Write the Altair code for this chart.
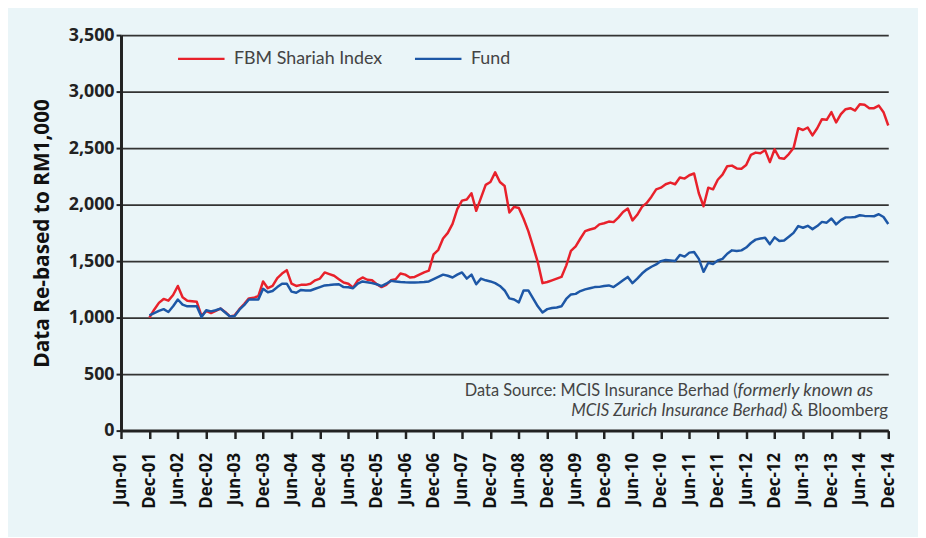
import altair as alt
import pandas as pd

# ---- data ----
tick_labels = [
    "Jun-01", "Dec-01", "Jun-02", "Dec-02", "Jun-03", "Dec-03", "Jun-04", "Dec-04",
    "Jun-05", "Dec-05", "Jun-06", "Dec-06", "Jun-07", "Dec-07", "Jun-08", "Dec-08",
    "Jun-09", "Dec-09", "Jun-10", "Dec-10", "Jun-11", "Dec-11", "Jun-12", "Dec-12",
    "Jun-13", "Dec-13", "Jun-14", "Dec-14",
]
series_names = ["FBM Shariah Index", "Fund"]
series_colors = ["#E8212B", "#1D57A6"]
start_month = 6  # first observation: Dec-01 (months after Jun-01)

fbm_shariah = [
    1000, 1070, 1130, 1165, 1150, 1200, 1280, 1180, 1150, 1145,
    1140, 1015, 1060, 1040, 1060, 1080, 1050, 1010, 1020, 1075,
    1120, 1170, 1175, 1190, 1320, 1260, 1280, 1350, 1390, 1420,
    1300, 1280, 1290, 1290, 1300, 1330, 1345, 1400, 1385, 1370,
    1340, 1310, 1300, 1265, 1330, 1355, 1335, 1330, 1295, 1270,
    1290, 1330, 1340, 1390, 1380, 1355, 1360, 1380, 1400, 1415,
    1560, 1600, 1700, 1750, 1830, 1960, 2035, 2045, 2100, 1945,
    2060, 2175, 2200, 2285, 2200, 2165, 1930, 1980, 1970, 1875,
    1765, 1630, 1490, 1305, 1315, 1330, 1345, 1360, 1460, 1590,
    1630, 1700, 1765, 1780, 1790, 1825, 1835, 1850, 1845, 1885,
    1935, 1965, 1860, 1910, 1980, 2015, 2070, 2135, 2150, 2180,
    2195, 2180, 2240, 2230, 2260, 2275, 2100, 1985, 2150, 2135,
    2220, 2265, 2340, 2345, 2320, 2318, 2350, 2440, 2460, 2455,
    2482, 2376, 2490, 2412, 2405, 2447, 2500, 2676, 2660, 2682,
    2612, 2676, 2756, 2750, 2818, 2727, 2800, 2844, 2853, 2832,
    2888, 2883, 2853, 2853, 2876, 2818, 2700,
]
fund = [
    1020, 1040, 1060, 1075, 1050, 1100, 1160, 1115, 1100, 1100,
    1100, 1005, 1065, 1055, 1065, 1080, 1045, 1010, 1015, 1070,
    1110, 1160, 1160, 1160, 1255, 1225, 1235, 1270, 1300, 1300,
    1230, 1220, 1245, 1240, 1240, 1255, 1270, 1285, 1288, 1292,
    1295, 1270, 1268, 1260, 1300, 1320, 1312, 1305, 1295, 1278,
    1300, 1325, 1320, 1315, 1312, 1310, 1310, 1312, 1315, 1320,
    1340, 1360, 1380, 1370, 1355, 1380, 1400, 1345, 1380, 1295,
    1345, 1330, 1320, 1305, 1280, 1240, 1170, 1160, 1135, 1240,
    1240, 1170, 1100, 1045, 1075, 1085, 1090, 1100, 1165, 1205,
    1210, 1235, 1250, 1260, 1270, 1272, 1280, 1285, 1270, 1300,
    1330, 1360, 1305, 1345, 1390, 1425, 1450, 1470, 1500, 1510,
    1505, 1500, 1555, 1540, 1575, 1580, 1520, 1405, 1485, 1475,
    1505, 1520, 1565, 1595, 1590, 1595, 1620, 1660, 1690, 1700,
    1707, 1650, 1710, 1677, 1683, 1715, 1750, 1810, 1795, 1812,
    1783, 1810, 1847, 1840, 1877, 1825, 1863, 1887, 1887, 1890,
    1906, 1900, 1898, 1897, 1915, 1890, 1828,
]
y_ticks = [0, 500, 1000, 1500, 2000, 2500, 3000, 3500]
source_line1 = ["Data Source: MCIS Insurance Berhad (", "formerly known as"]
source_line2 = ["MCIS Zurich Insurance Berhad)", "& Bloomberg"]

# ---- table ----
rows = []
for name, vals in zip(series_names, [fbm_shariah, fund]):
    for i, v in enumerate(vals):
        rows.append({"month": start_month + i, "value": v, "series": name})
df = pd.DataFrame(rows)

W, H = 774, 399
BG = "#EAF5F8"
NARROW = "Lato, 'Open Sans', sans-serif"
BOLDF = "'Open Sans', 'DejaVu Sans', sans-serif"
TXT = "#444444"

label_expr = "[" + ",".join("'%s'" % t for t in tick_labels) + "][round(datum.value / 6)]"

lines = alt.Chart(df).mark_line(strokeWidth=2.5, strokeJoin="round").encode(
    x=alt.X(
        "month:Q",
        scale=alt.Scale(domain=[0, 6 * (len(tick_labels) - 1)], nice=False, zero=False),
        axis=alt.Axis(
            values=[6 * i for i in range(len(tick_labels))],
            labelExpr=label_expr,
            labelAngle=270,
            labelFont=BOLDF,
            labelFontSize=17,
            labelFontWeight="bold",
            labelColor="#111111",
            labelPadding=14,
            tickSize=8,
            tickWidth=2.5,
            tickColor="#222222",
            domainColor="#222222",
            domainWidth=3,
            grid=False,
            title=None,
        ),
    ),
    y=alt.Y(
        "value:Q",
        scale=alt.Scale(domain=[0, 3500], nice=False),
        axis=alt.Axis(
            values=y_ticks,
            format=",d",
            labelFont=BOLDF,
            labelFontSize=18,
            labelFontWeight="bold",
            labelColor="#222222",
            labelPadding=2,
            tickSize=5,
            tickWidth=2,
            tickColor="#222222",
            domainColor="#222222",
            domainWidth=3,
            grid=True,
            gridColor="#333333",
            gridWidth=1.6,
            title="Data Re-based to RM1,000",
            titleFont=BOLDF,
            titleFontSize=21,
            titleFontWeight="bold",
            titleColor="#111111",
            titlePadding=16,
        ),
    ),
    color=alt.Color(
        "series:N",
        scale=alt.Scale(domain=series_names, range=series_colors),
        legend=alt.Legend(
            title=None,
            orient="none",
            legendX=56,
            legendY=-1,
            direction="horizontal",
            symbolType="stroke",
            symbolSize=2200,
            symbolStrokeWidth=2.5,
            labelFont=NARROW,
            labelFontSize=18,
            labelColor=TXT,
            labelLimit=0,
            labelOffset=8,
            columnPadding=27,
            padding=0,
        ),
    ),
)

def txt(text, x, y, align, size, italic=False):
    return alt.Chart(pd.DataFrame({"t": [text]})).mark_text(
        align=align,
        baseline="alphabetic",
        font=NARROW,
        fontSize=size,
        fontStyle="italic" if italic else "normal",
        color=TXT,
    ).encode(text="t:N", x=alt.value(x), y=alt.value(y))

notes = (
    txt(source_line1[0], 622, 364, "right", 16.5)
    + txt(source_line1[1], 622, 364, "left", 18, italic=True)
    + txt(source_line2[0], 672, 384, "right", 17, italic=True)
    + txt(source_line2[1], 676, 384, "left", 17)
)

chart = (lines + notes).properties(
    width=W,
    height=H,
    autosize=alt.AutoSizeParams(type="none"),
    padding={"left": 114, "top": 25, "right": 30, "bottom": 105},
    background=BG,
).configure_view(stroke=None)

chart.save("out.html", embed_options={"renderer": "svg", "actions": False})
